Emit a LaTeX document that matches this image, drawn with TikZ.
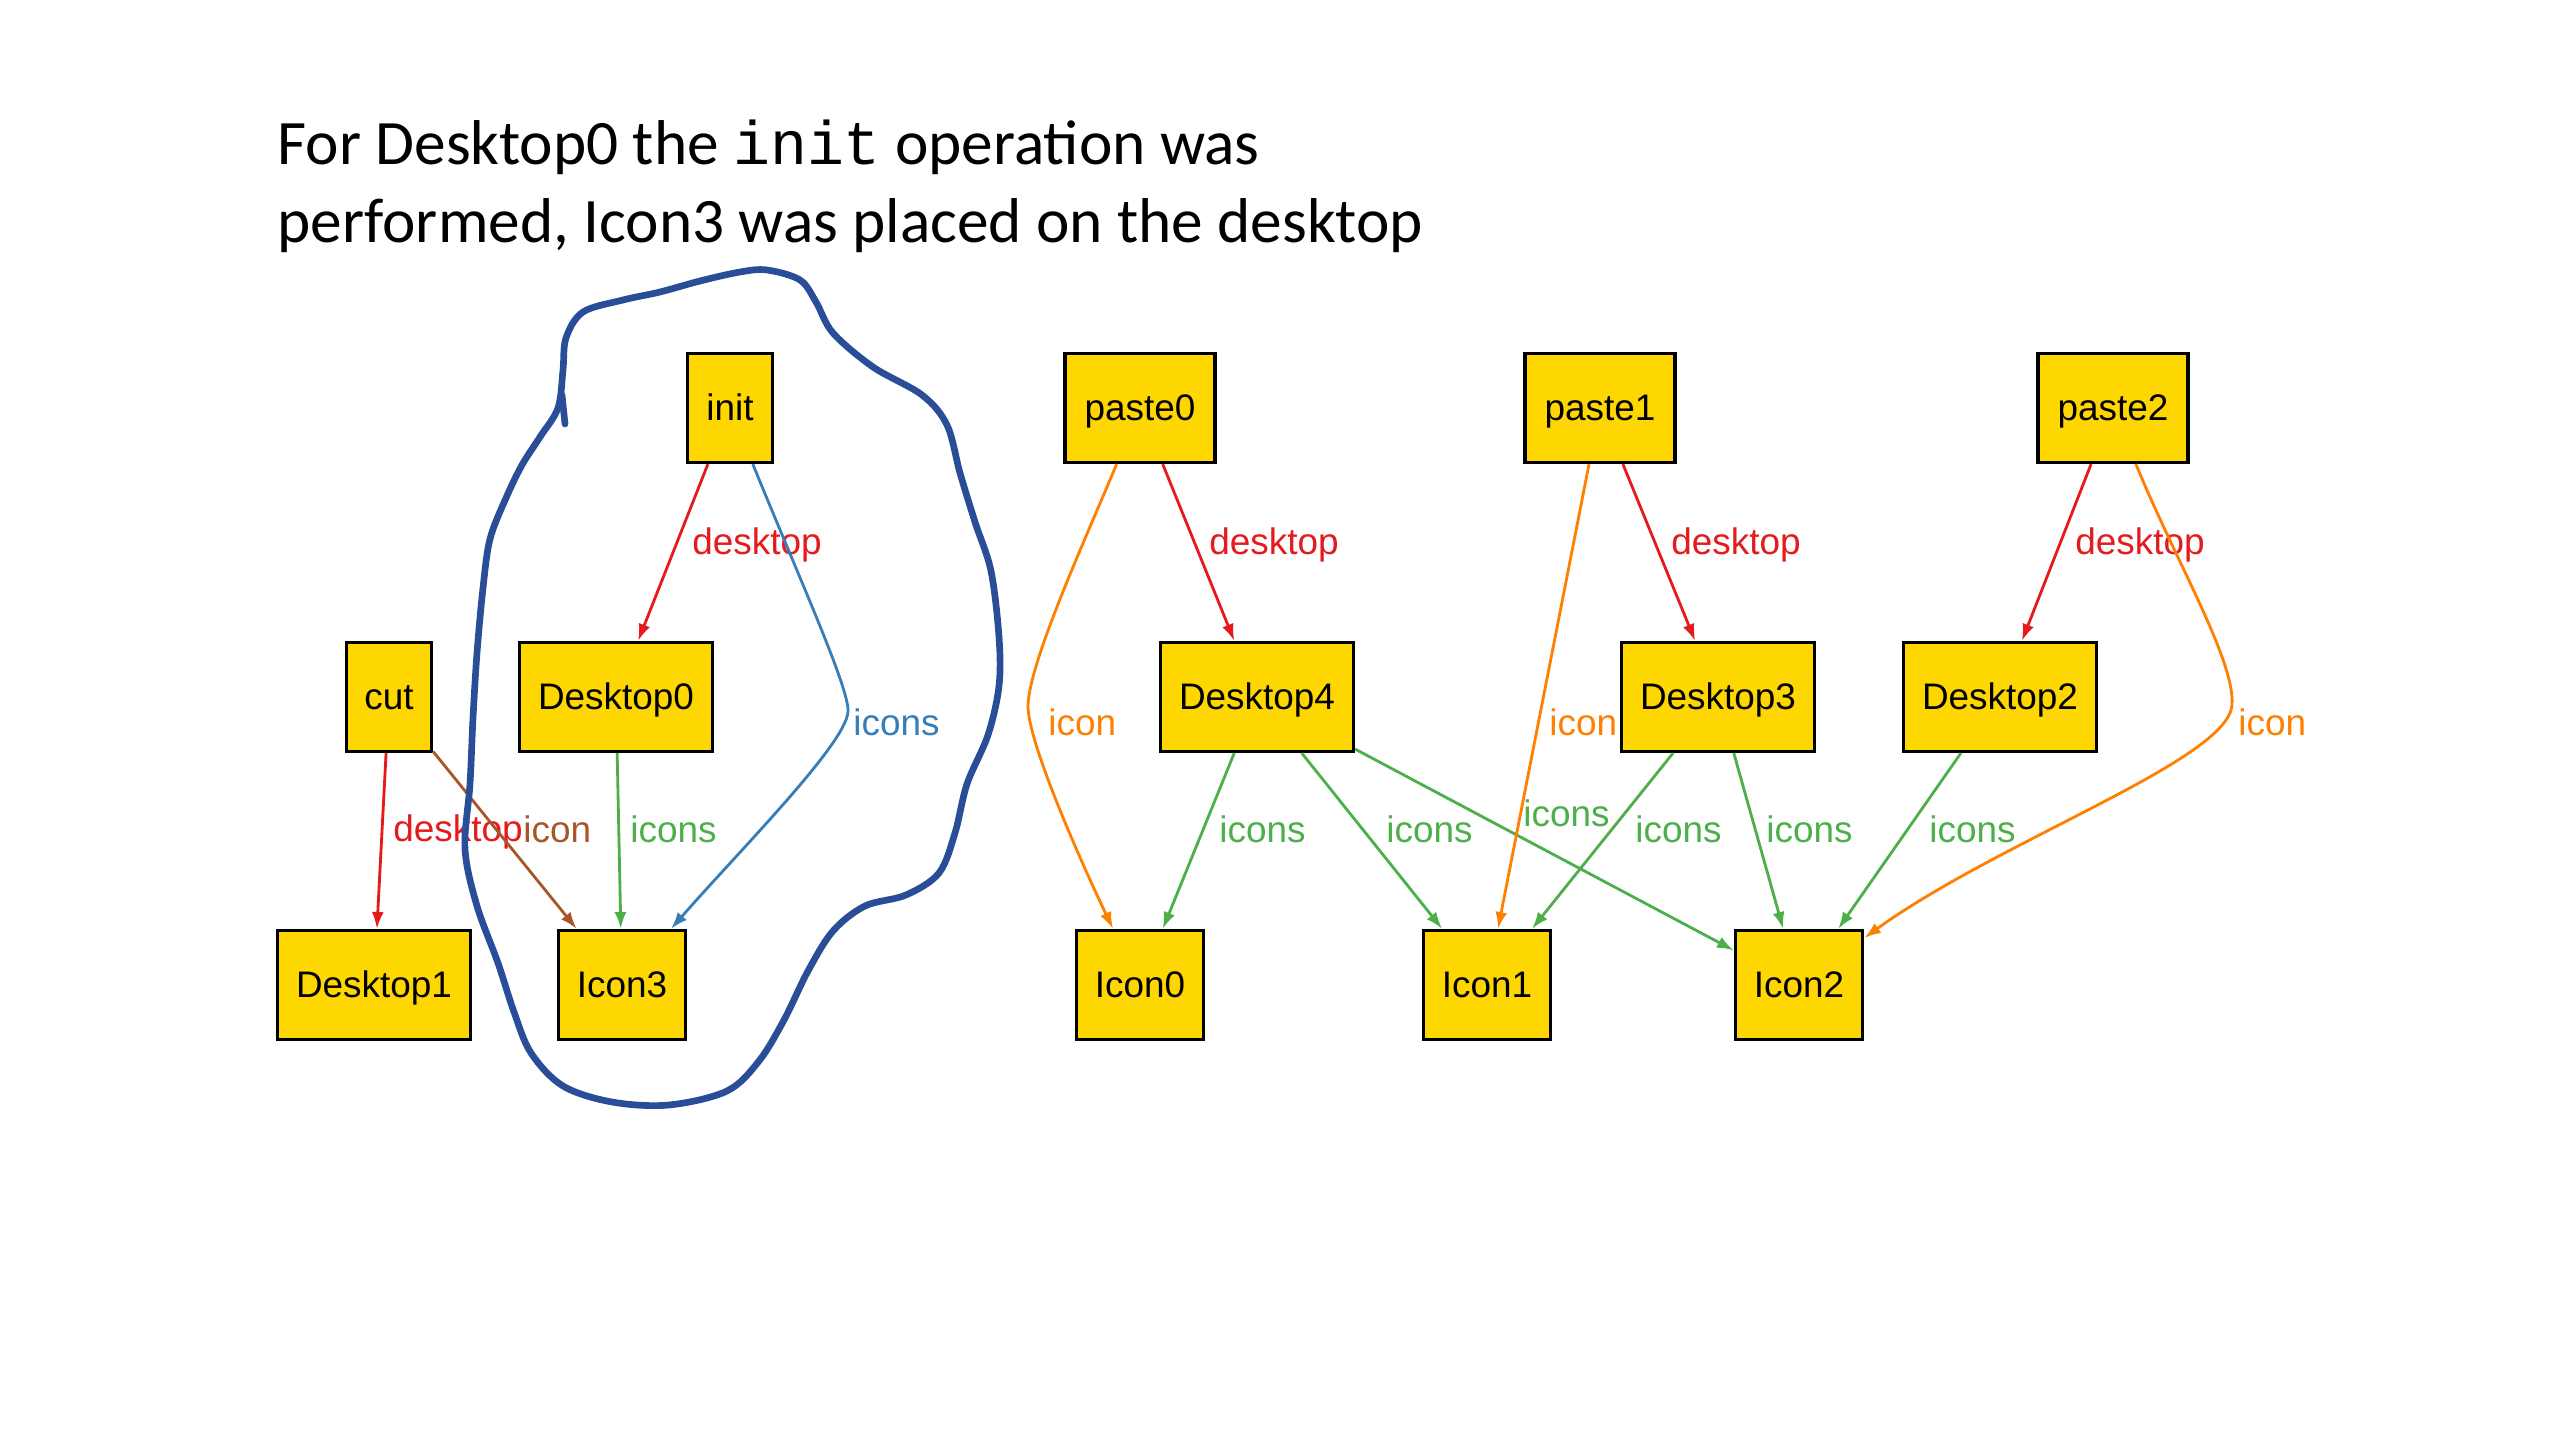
\documentclass[tikz,border=0pt]{standalone}
\usepackage{fontspec}
\setmainfont{Carlito}
\newfontfamily\graphfont{Liberation Sans}
\newfontfamily\codefont{Liberation Mono}
\usepackage{xcolor}
\usetikzlibrary{arrows.meta}

\definecolor{boxyellow}{RGB}{255,215,0}
\definecolor{deskred}{RGB}{228,26,28}
\definecolor{iconsgreen}{RGB}{77,175,74}
\definecolor{iconorange}{RGB}{255,127,0}
\definecolor{iconsblue}{RGB}{55,126,184}
\definecolor{iconbrown}{RGB}{166,86,40}
\definecolor{penblue}{RGB}{41,77,150}

\begin{document}
\begin{tikzpicture}[
    x=0.01cm,
    y=-0.01cm,
    >={Latex[length=4.8pt,width=3.4pt]},
    block/.style={
        draw,
        rectangle,
        fill=boxyellow,
        line width=0.9pt,
        minimum height=1.09cm,
        minimum width=#1,
        inner sep=0pt,
        text height=0.73em,
        text depth=0pt,
        font=\graphfont\fontsize{10.5}{12}\selectfont
    },
    lbl/.style={
        anchor=west,
        inner sep=0pt,
        font=\graphfont\fontsize{10.5}{12}\selectfont
    },
    desk/.style={->, deskred, line width=0.8pt},
    icons/.style={->, iconsgreen, line width=0.8pt},
    icon/.style={->, iconorange, line width=0.8pt},
    initicons/.style={->, iconsblue, line width=0.8pt},
    cuticon/.style={->, iconbrown, line width=0.8pt},
    scribble/.style={penblue, line width=1.9pt, line cap=round, line join=round},
    title/.style={anchor=base west, inner sep=0pt, font=\fontsize{18}{22}\selectfont}
]
\useasboundingbox (0,0) rectangle (2560,1440);

% Title
\node [title] (title) at (277,165) {For Desktop0 the {\codefont\fontsize{17.5}{22}\selectfont init} operation was};
\node [title] (title2) at (277,243) {performed, Icon3 was placed on the desktop};

% Nodes
\node [block=0.85cm] (init) at (730,408) {init};
\node [block=1.50cm] (paste0) at (1140,408) {paste0};
\node [block=1.50cm] (paste1) at (1600,408) {paste1};
\node [block=1.50cm] (paste2) at (2113,408) {paste2};

\node [block=0.85cm] (cut) at (389,697) {cut};
\node [block=1.93cm] (Desktop0) at (616,697) {Desktop0};
\node [block=1.93cm] (Desktop4) at (1257,697) {Desktop4};
\node [block=1.93cm] (Desktop3) at (1718,697) {Desktop3};
\node [block=1.93cm] (Desktop2) at (2000,697) {Desktop2};

\node [block=1.93cm] (Desktop1) at (374,985) {Desktop1};
\node [block=1.27cm] (Icon3) at (622,985) {Icon3};
\node [block=1.27cm] (Icon0) at (1140,985) {Icon0};
\node [block=1.27cm] (Icon1) at (1487,985) {Icon1};
\node [block=1.27cm] (Icon2) at (1799,985) {Icon2};

% Edges and labels
\draw [desk] (init) -- (Desktop0) node [lbl] at (691,545) {desktop};
\draw [initicons] (init) .. controls (800,580) and (850,690) .. (848,712)
    .. controls (845,745) and (740,850) .. (Icon3) node [lbl] at (852,722) {icons};
\draw [icons] (Desktop0) -- (Icon3) node [lbl] at (629,829) {icons};
\draw [desk] (cut) -- (Desktop1) node [lbl] at (392,832) {desktop};
\draw [cuticon] (cut) -- (Icon3) node [lbl] at (522,829) {icon};

\draw [desk] (paste0) -- (Desktop4) node [lbl] at (1208,545) {desktop};
\draw [icon] (paste0) .. controls (1085,540) and (1030,660) .. (1028,705)
    .. controls (1027,740) and (1080,860) .. (Icon0) node [lbl] at (1047,722) {icon};
\draw [icons] (Desktop4) -- (Icon0) node [lbl] at (1218,829) {icons};
\draw [icons] (Desktop4) -- (Icon1) node [lbl] at (1385,829) {icons};
\draw [icons] (Desktop4) -- (Icon2) node [lbl] at (1522,813) {icons};

\draw [icon] (paste1) -- (Icon1) node [lbl] at (1548,722) {icon};
\draw [desk] (paste1) -- (Desktop3) node [lbl] at (1670,545) {desktop};
\draw [icons] (Desktop3) -- (Icon1) node [lbl] at (1634,829) {icons};
\draw [icons] (Desktop3) -- (Icon2) node [lbl] at (1765,829) {icons};

\draw [desk] (paste2) -- (Desktop2) node [lbl] at (2074,545) {desktop};
\draw [icon] (paste2) .. controls (2175,560) and (2235,660) .. (2232,705)
    .. controls (2228,760) and (2000,840) .. (Icon2) node [lbl] at (2237,722) {icon};
\draw [icons] (Desktop2) -- (Icon2) node [lbl] at (1928,829) {icons};

% Hand-drawn ring round init, Desktop0 and Icon3
\draw [scribble] plot [smooth cycle, tension=0.55] coordinates {
    (583,312) (623,300) (660,292) (700,281) (740,272) (767,270) (800,280)
    (816,302) (833,333) (873,367) (922,395) (947,425) (960,473) (975,522)
    (991,571) (999,637) (999,686) (988,735) (967,784) (955,833) (939,873)
    (906,895) (865,906) (833,931) (808,971) (784,1020) (759,1061) (727,1091)
    (669,1105) (612,1102) (563,1086) (531,1053) (514,1012) (498,963) (477,906)
    (465,849) (470,784) (473,718) (477,653) (483,588) (490,539) (506,498)
    (522,465) (540,437) (558,408) (563,370) (566,338)};
\draw [scribble] (562,395) -- (565,424);

\end{tikzpicture}
\end{document}
